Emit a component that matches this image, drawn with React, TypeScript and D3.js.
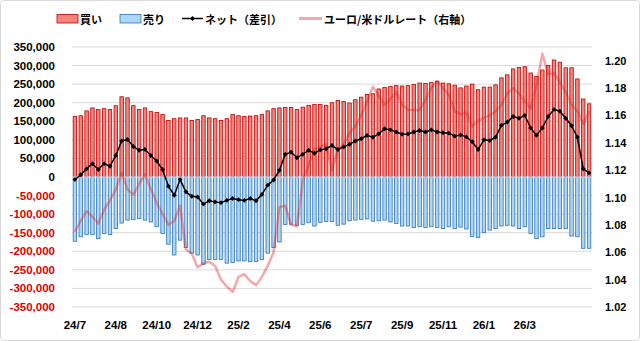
import React from "react";
import * as d3 from "d3";

// 買い (long), 売り (short), ネット (net), ユーロ/米ドル (right axis)
const buyValues = [
  163000, 165000, 178000, 186000, 182000, 184000, 182000, 192000, 216000, 213000, 192000, 182000, 186000, 176000, 174000, 168000, 152000, 157000,
  159000, 159000, 152000, 155000, 165000, 159000, 157000, 152000, 157000, 168000, 165000, 163000,
  164000, 165000, 168000, 178000, 184000, 186000,
  187000, 187000, 182000, 188000, 193000, 195000, 195000, 193000, 200000, 206000, 203000, 199000, 208000, 215000, 222000, 224000, 237000,
  241000, 244000, 246000, 245000, 246000, 249000, 253000, 252000, 254000, 258000, 253000, 251000, 247000, 240000, 245000, 250000, 235000,
  242000, 242000, 248000, 267000, 275000, 291000, 295000, 297000, 280000, 271000, 288000, 300000, 315000, 309000, 294000, 294000, 264000, 210000, 197000,
];

const sellValues = [
  -173000, -161000, -155000, -155000, -166000, -152000, -155000, -139000, -124000, -116000, -115000, -112000, -116000, -121000, -134000, -152000, -181000, -210000,
  -170000, -190000, -205000, -210000, -235000, -222000, -222000, -222000, -232000, -230000, -226000, -226000,
  -228000, -228000, -222000, -205000, -190000, -175000,
  -128000, -127000, -130000, -128000, -123000, -132000, -122000, -120000, -120000, -130000, -127000, -118000, -116000, -114000, -113000, -119000, -118000,
  -116000, -121000, -125000, -132000, -132000, -136000, -134000, -136000, -134000, -136000, -139000, -134000, -139000, -135000, -140000, -160000, -163000,
  -150000, -143000, -139000, -132000, -130000, -132000, -139000, -134000, -152000, -166000, -161000, -139000, -139000, -139000, -139000, -159000, -161000, -192000, -192000,
];

const netValues = [
  -7000, 6000, 22000, 36000, 20000, 36000, 29000, 58000, 97000, 101000, 82000, 72000, 74000, 58000, 43000, 20000, -25000, -49000,
  -7000, -40000, -52000, -54000, -73000, -64000, -67000, -69000, -63000, -58000, -61000, -63000,
  -58000, -64000, -47000, -22000, -8000, 18000,
  61000, 67000, 52000, 61000, 72000, 64000, 73000, 76000, 85000, 74000, 81000, 88000, 97000, 103000, 112000, 107000, 116000,
  130000, 127000, 121000, 115000, 116000, 121000, 125000, 121000, 127000, 121000, 119000, 118000, 110000, 113000, 108000, 95000, 74000,
  100000, 98000, 107000, 139000, 148000, 163000, 158000, 166000, 132000, 112000, 132000, 163000, 182000, 177000, 158000, 138000, 107000, 22000, 11000,
];

const eurUsdValues = [
  1.075, 1.083, 1.09, 1.086, 1.081, 1.091, 1.098, 1.106, 1.118, 1.106, 1.102, 1.11, 1.117, 1.106, 1.096, 1.088, 1.08, 1.083,
  1.094, 1.062, 1.059, 1.049, 1.052, 1.053, 1.05, 1.04, 1.035, 1.031, 1.042, 1.044,
  1.039, 1.036, 1.042, 1.05, 1.06, 1.093,
  1.094, 1.08, 1.079, 1.112, 1.124, 1.135, 1.137, 1.139, 1.12, 1.135, 1.139, 1.147, 1.152, 1.16, 1.17, 1.181, 1.174,
  1.168, 1.172, 1.177, 1.168, 1.164, 1.164, 1.164, 1.171, 1.18, 1.185, 1.18, 1.175, 1.163, 1.161, 1.162, 1.152, 1.156,
  1.158, 1.16, 1.163, 1.168, 1.176, 1.18, 1.176, 1.17, 1.165, 1.182, 1.205, 1.19, 1.191, 1.184, 1.177, 1.168, 1.163, 1.154, 1.163,
];

const xTickLabels = ["24/7", "24/8", "24/10", "24/12", "25/2", "25/4", "25/6", "25/7", "25/9", "25/11", "26/1", "26/3"];
const labelEvery = 7;

const leftTicks = d3.range(-350000, 350001, 50000);
const rightTicks = d3.range(0, 10).map((k) => 1.02 + 0.02 * k);

const legendItems = ["買い", "売り", "ネット（差引）", "ユーロ/米ドルレート（右軸）"];

const RED_FILL = "#F3847D";
const RED_STROKE = "#C00000";
const BLUE_FILL = "#ADD6F6";
const BLUE_STROKE = "#2E75B6";
const EUR_COLOR = "#E81818";

export default function App() {
  const W = 640;
  const H = 341;
  const left = 72;
  const right = 592;
  const top = 47;
  const bottom = 307;

  const idx = d3.range(buyValues.length);
  const x = d3
    .scaleBand<number>()
    .domain(idx)
    .range([left, right])
    .paddingInner(0.27)
    .paddingOuter(0.135);
  const bw = x.bandwidth();
  const cx = (i: number) => (x(i) as number) + bw / 2;

  const yL = d3.scaleLinear().domain([-350000, 350000]).range([bottom, top]);
  const yR = d3.scaleLinear().domain([1.02, 1.21]).range([bottom, top]);

  const loc = d3.formatLocale({
    decimal: ".",
    thousands: ",",
    grouping: [3],
    currency: ["", ""],
    minus: "-",
  });
  const fmtL = loc.format(",");
  const fmtR = d3.format(".2f");

  const netPath = d3
    .line<number>()
    .x((_, i) => cx(i))
    .y((d) => yL(d))(netValues) as string;
  const eurPath = d3
    .line<number>()
    .x((_, i) => cx(i))
    .y((d) => yR(d))(eurUsdValues) as string;

  const diamond = d3.symbol(d3.symbolSquare, 12)() as string;

  const numFont = "'Liberation Sans', Arial, sans-serif";
  const jpFont = "'Noto Sans CJK JP', sans-serif";
  const y0 = yL(0);

  return (
    <svg
      width={W}
      height={H}
      viewBox={`0 0 ${W} ${H}`}
      style={{ position: "absolute", left: 0, top: 0, background: "#fff" }}
    >
      <rect x={0.5} y={0.5} width={W - 1} height={H - 1} fill="#fff" stroke="#D9D9D9" rx={3} />

      {/* gridlines */}
      {leftTicks.map((t) => (
        <line key={"g" + t} x1={left} x2={right} y1={yL(t)} y2={yL(t)} stroke="#D9D9D9" strokeWidth={1} />
      ))}

      {/* buy bars */}
      {buyValues.map((v, i) => (
        <rect
          key={"b" + i}
          x={(x(i) as number) + 0.4}
          y={yL(v)}
          width={bw - 0.8}
          height={y0 - yL(v)}
          fill={RED_FILL}
          stroke={RED_STROKE}
          strokeWidth={0.8}
        />
      ))}
      {/* sell bars */}
      {sellValues.map((v, i) => (
        <rect
          key={"s" + i}
          x={(x(i) as number) + 0.4}
          y={y0}
          width={bw - 0.8}
          height={yL(v) - y0}
          fill={BLUE_FILL}
          stroke={BLUE_STROKE}
          strokeWidth={0.8}
        />
      ))}
      <line x1={left} x2={right} y1={y0} y2={y0} stroke="#F4F4F4" strokeWidth={1} />

      {/* EUR/USD line */}
      <path d={eurPath} fill="none" stroke={EUR_COLOR} strokeOpacity={0.38} strokeWidth={2.5} strokeLinejoin="round" />

      {/* net line */}
      <path d={netPath} fill="none" stroke="#000" strokeWidth={1.5} strokeLinejoin="round" />
      {netValues.map((v, i) => (
        <path key={"m" + i} d={diamond} transform={`translate(${cx(i)},${yL(v)}) rotate(45)`} fill="#000" />
      ))}

      {/* left axis labels */}
      {leftTicks.map((t) => (
        <text
          key={"l" + t}
          x={55}
          y={yL(t)}
          textAnchor="end"
          dominantBaseline="central"
          fontFamily={numFont}
          fontWeight="bold"
          fontSize={11.5}
          fill={t < 0 ? "#E00000" : "#000"}
        >
          {fmtL(t)}
        </text>
      ))}

      {/* right axis labels */}
      {rightTicks.map((t) => (
        <text
          key={"r" + t}
          x={605}
          y={yR(t)}
          textAnchor="start"
          dominantBaseline="central"
          fontFamily={numFont}
          fontWeight="bold"
          fontSize={11}
          fill="#000"
        >
          {fmtR(t)}
        </text>
      ))}

      {/* x axis labels */}
      {xTickLabels.map((lab, k) => (
        <text
          key={"x" + k}
          x={cx(k * labelEvery)}
          y={325}
          textAnchor="middle"
          dominantBaseline="central"
          fontFamily={numFont}
          fontWeight="bold"
          fontSize={11.5}
          fill="#000"
        >
          {lab}
        </text>
      ))}

      {/* legend */}
      <g fontFamily={jpFont} fontWeight="bold" fontSize={11} fill="#000">
        <rect x={57} y={14.5} width={21} height={8.5} fill={RED_FILL} stroke={RED_STROKE} strokeWidth={0.8} />
        <text x={80} y={18.5} dominantBaseline="central">{legendItems[0]}</text>
        <rect x={120} y={14.5} width={21} height={8.5} fill={BLUE_FILL} stroke={BLUE_STROKE} strokeWidth={0.8} />
        <text x={143} y={18.5} dominantBaseline="central">{legendItems[1]}</text>
        <line x1={182} x2={203} y1={18.5} y2={18.5} stroke="#000" strokeWidth={1.5} />
        <path d={diamond} transform="translate(192.5,18.5) rotate(45)" fill="#000" />
        <text x={205} y={18.5} dominantBaseline="central">{legendItems[2]}</text>
        <line x1={299} x2={322} y1={18.5} y2={18.5} stroke={EUR_COLOR} strokeOpacity={0.38} strokeWidth={3} />
        <text x={324} y={18.5} dominantBaseline="central">{legendItems[3]}</text>
      </g>
    </svg>
  );
}
